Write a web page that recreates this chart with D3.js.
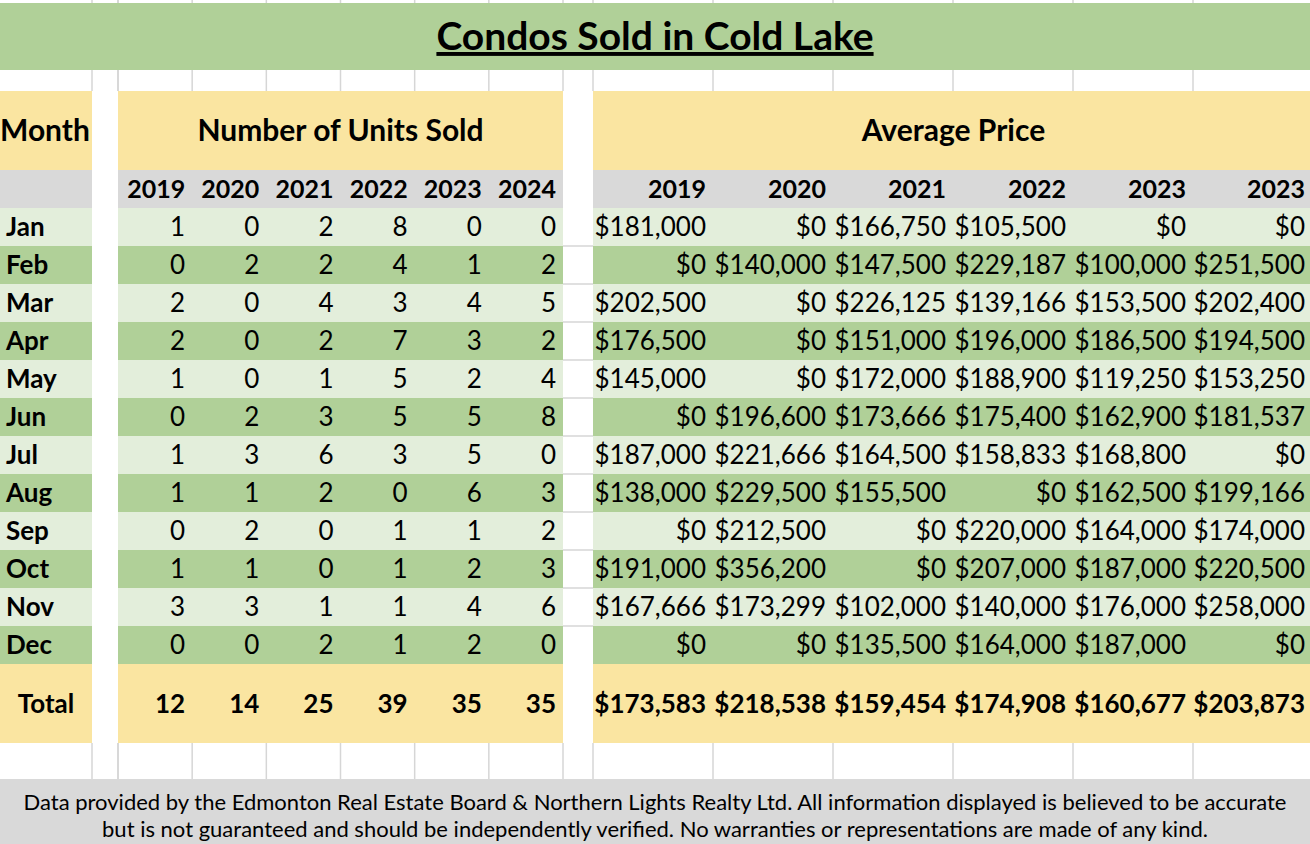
<!DOCTYPE html>
<html>
<head>
<meta charset="utf-8">
<script src="https://cdn.jsdelivr.net/npm/d3@7"></script>
<style>
  body { margin: 0; background: #fff; }
  svg { display: block; font-family: Lato, "Open Sans", sans-serif; }
</style>
</head>
<body>
<svg id="sheet"></svg>
<script>
const width = 1310, height = 844;

// table data
const months = ["Jan", "Feb", "Mar", "Apr", "May", "Jun", "Jul", "Aug", "Sep", "Oct", "Nov", "Dec"];
const unitYears = ["2019", "2020", "2021", "2022", "2023", "2024"];
const priceYears = ["2019", "2020", "2021", "2022", "2023", "2023"]; // sheet header says 2023 twice

const units2019 = [1, 0, 2, 2, 1, 0, 1, 1, 0, 1, 3, 0];
const units2020 = [0, 2, 0, 0, 0, 2, 3, 1, 2, 1, 3, 0];
const units2021 = [2, 2, 4, 2, 1, 3, 6, 2, 0, 0, 1, 2];
const units2022 = [8, 4, 3, 7, 5, 5, 3, 0, 1, 1, 1, 1];
const units2023 = [0, 1, 4, 3, 2, 5, 5, 6, 1, 2, 4, 2];
const units2024 = [0, 2, 5, 2, 4, 8, 0, 3, 2, 3, 6, 0];
const unitTotals = [12, 14, 25, 39, 35, 35];

const price2019 = [181000, 0, 202500, 176500, 145000, 0, 187000, 138000, 0, 191000, 167666, 0];
const price2020 = [0, 140000, 0, 0, 0, 196600, 221666, 229500, 212500, 356200, 173299, 0];
const price2021 = [166750, 147500, 226125, 151000, 172000, 173666, 164500, 155500, 0, 0, 102000, 135500];
const price2022 = [105500, 229187, 139166, 196000, 188900, 175400, 158833, 0, 220000, 207000, 140000, 164000];
const price2023 = [0, 100000, 153500, 186500, 119250, 162900, 168800, 162500, 164000, 187000, 176000, 187000];
const price2024 = [0, 251500, 202400, 194500, 153250, 181537, 0, 199166, 174000, 220500, 258000, 0];
const priceTotals = [173583, 218538, 159454, 174908, 160677, 203873];

const unitCols = [units2019, units2020, units2021, units2022, units2023, units2024];
const priceCols = [price2019, price2020, price2021, price2022, price2023, price2024];

const C = {
  title: "#b0d098",
  head: "#fae5a1",
  gray: "#d9d9d9",
  light: "#e3eedb",
  mid: "#b0d098",
  grid: "#d6d6d6"
};

const svg = d3.select("#sheet")
  .attr("width", width)
  .attr("height", height)
  .attr("viewBox", `0 0 ${width} ${height}`);

// layout
const monthX = [0, 92];
const xUnits = d3.scaleBand().domain(d3.range(6)).range([118, 563]);
const xPrice = d3.scaleBand().domain(d3.range(6)).range([593, 1313]);
const y = d3.scaleBand().domain(months).range([208, 664]);
const headTop = 91, yearTop = 170, totalTop = 664, totalBot = 743, footTop = 779;

const colEdges = [monthX[1], 118]
  .concat(d3.range(7).map(i => xUnits(0) + i * xUnits.bandwidth()))
  .concat(d3.range(6).map(i => xPrice(0) + i * xPrice.bandwidth()));

const fmtPrice = d3.format("$,.0f");

// excel-like gridlines in the blank rows
const gridG = svg.append("g").attr("stroke", C.grid).attr("stroke-width", 1.5);
[[0, 3], [70, headTop], [totalBot, footTop]].forEach(([y0, y1]) => {
  gridG.selectAll(null)
    .data(colEdges)
    .join("line")
    .attr("x1", d => d).attr("x2", d => d)
    .attr("y1", y0).attr("y2", y1);
});
// horizontal gridlines visible in the gap between the two blocks
gridG.selectAll(null)
  .data(months.slice(1))
  .join("line")
  .attr("x1", 563).attr("x2", 593)
  .attr("y1", d => y(d)).attr("y2", d => y(d));

// title band
svg.append("rect").attr("x", 0).attr("y", 3).attr("width", width).attr("height", 67).attr("fill", C.title);
svg.append("text")
  .attr("x", width / 2).attr("y", 50)
  .attr("text-anchor", "middle")
  .attr("font-size", 39).attr("font-weight", 700)
  .attr("text-decoration", "underline")
  .text("Condos Sold in Cold Lake");

// block backgrounds
const blocks = [
  { x0: 0, x1: monthX[1] },
  { x0: xUnits.range()[0], x1: xUnits.range()[1] },
  { x0: xPrice.range()[0], x1: width }
];
blocks.forEach(b => {
  const g = svg.append("g");
  g.append("rect").attr("x", b.x0).attr("y", headTop).attr("width", b.x1 - b.x0).attr("height", yearTop - headTop).attr("fill", C.head);
  g.append("rect").attr("x", b.x0).attr("y", yearTop).attr("width", b.x1 - b.x0).attr("height", y.range()[0] - yearTop).attr("fill", C.gray);
  g.selectAll("rect.row")
    .data(months)
    .join("rect")
    .attr("class", "row")
    .attr("x", b.x0)
    .attr("y", d => y(d))
    .attr("width", b.x1 - b.x0)
    .attr("height", y.bandwidth())
    .attr("fill", (d, i) => i % 2 === 0 ? C.light : C.mid);
  g.append("rect").attr("x", b.x0).attr("y", totalTop).attr("width", b.x1 - b.x0).attr("height", totalBot - totalTop).attr("fill", C.head);
});

// header texts
const headMid = (headTop + yearTop) / 2;
svg.append("text").attr("x", 0).attr("y", headMid).attr("dy", "0.35em")
  .attr("font-size", 30).attr("font-weight", 700).text("Month");
svg.append("text").attr("x", (xUnits.range()[0] + xUnits.range()[1]) / 2).attr("y", headMid).attr("dy", "0.35em")
  .attr("text-anchor", "middle").attr("font-size", 30).attr("font-weight", 700).text("Number of Units Sold");
svg.append("text").attr("x", (xPrice.range()[0] + width) / 2 + 2).attr("y", headMid).attr("dy", "0.35em")
  .attr("text-anchor", "middle").attr("font-size", 30).attr("font-weight", 700).text("Average Price");

const yearMid = (yearTop + y.range()[0]) / 2;
const pad = 7;
const priceRight = i => Math.min(xPrice(i) + xPrice.bandwidth(), width) - pad + (i === 5 ? 2 : 0);

svg.append("g").selectAll("text")
  .data(unitYears)
  .join("text")
  .attr("x", (d, i) => xUnits(i) + xUnits.bandwidth() - pad)
  .attr("y", yearMid).attr("dy", "0.35em")
  .attr("text-anchor", "end").attr("font-size", 25).attr("font-weight", 700)
  .text(d => d);
svg.append("g").selectAll("text")
  .data(priceYears)
  .join("text")
  .attr("x", (d, i) => priceRight(i))
  .attr("y", yearMid).attr("dy", "0.35em")
  .attr("text-anchor", "end").attr("font-size", 25).attr("font-weight", 700)
  .text(d => d);

// month labels
svg.append("g").selectAll("text")
  .data(months)
  .join("text")
  .attr("x", 6)
  .attr("y", d => y(d) + y.bandwidth() / 2).attr("dy", "0.35em")
  .attr("font-size", 26).attr("font-weight", 700)
  .text(d => d);

// unit cells
unitCols.forEach((col, ci) => {
  svg.append("g").selectAll("text")
    .data(col)
    .join("text")
    .attr("x", xUnits(ci) + xUnits.bandwidth() - pad)
    .attr("y", (d, i) => y(months[i]) + y.bandwidth() / 2).attr("dy", "0.35em")
    .attr("text-anchor", "end").attr("font-size", 26)
    .text(d => d);
});

// price cells
priceCols.forEach((col, ci) => {
  svg.append("g").selectAll("text")
    .data(col)
    .join("text")
    .attr("x", priceRight(ci))
    .attr("y", (d, i) => y(months[i]) + y.bandwidth() / 2).attr("dy", "0.35em")
    .attr("text-anchor", "end").attr("font-size", 26)
    .text(d => fmtPrice(d));
});

// totals row
const totalMid = (totalTop + totalBot) / 2;
svg.append("text").attr("x", monthX[1] / 2).attr("y", totalMid).attr("dy", "0.35em")
  .attr("text-anchor", "middle").attr("font-size", 26).attr("font-weight", 700).text("Total");
svg.append("g").selectAll("text")
  .data(unitTotals)
  .join("text")
  .attr("x", (d, i) => xUnits(i) + xUnits.bandwidth() - pad)
  .attr("y", totalMid).attr("dy", "0.35em")
  .attr("text-anchor", "end").attr("font-size", 26).attr("font-weight", 700)
  .text(d => d);
svg.append("g").selectAll("text")
  .data(priceTotals)
  .join("text")
  .attr("x", (d, i) => priceRight(i))
  .attr("y", totalMid).attr("dy", "0.35em")
  .attr("text-anchor", "end").attr("font-size", 26).attr("font-weight", 700)
  .text(d => fmtPrice(d));

// footer note
svg.append("rect").attr("x", 0).attr("y", footTop).attr("width", width).attr("height", height - footTop).attr("fill", C.gray);
const note = [
  "Data provided by the Edmonton Real Estate Board & Northern Lights Realty Ltd. All information displayed is believed to be accurate",
  "but is not guaranteed and should be independently verified. No warranties or representations are made of any kind."
];
svg.append("g").selectAll("text")
  .data(note)
  .join("text")
  .attr("x", width / 2)
  .attr("y", (d, i) => 802 + i * 27).attr("dy", "0.35em")
  .attr("text-anchor", "middle").attr("font-size", 22)
  .text(d => d);
</script>
</body>
</html>
